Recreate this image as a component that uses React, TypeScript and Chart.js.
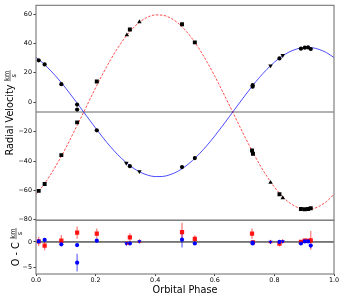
import React, { useEffect, useRef } from 'react';
import Chart from 'chart.js/auto';

// ---- model curves ----
const PHASE_GRID = [0, 0.025, 0.05, 0.075, 0.1, 0.125, 0.15, 0.175, 0.2, 0.225, 0.25, 0.275, 0.3, 0.325, 0.35, 0.375, 0.4, 0.425, 0.45, 0.475, 0.5, 0.525, 0.55, 0.575, 0.6, 0.625, 0.65, 0.675, 0.7, 0.725, 0.75, 0.775, 0.8, 0.825, 0.85, 0.875, 0.9, 0.925, 0.95, 0.975, 1.0];
const MODEL_PRIMARY = [30.4, 26.3, 21.3, 15.7, 9.5, 2.9, -3.9, -10.8, -17.6, -24.2, -30.3, -35.8, -40.6, -44.6, -47.6, -49.6, -50.6, -50.5, -49.3, -47.1, -43.8, -39.7, -34.7, -29.1, -22.9, -16.3, -9.5, -2.6, 4.2, 10.8, 16.9, 22.4, 27.2, 31.2, 34.2, 36.2, 37.2, 37.1, 35.9, 33.7, 30.4];
const MODEL_SECONDARY = [-62.6, -56.4, -48.9, -40.4, -31.1, -21.1, -10.9, -0.5, 9.8, 19.6, 28.8, 37.1, 44.3, 50.3, 54.9, 57.9, 59.4, 59.2, 57.4, 54.1, 49.2, 43.0, 35.5, 27.0, 17.7, 7.7, -2.5, -12.9, -23.2, -33.0, -42.2, -50.5, -57.7, -63.7, -68.3, -71.3, -72.8, -72.6, -70.8, -67.5, -62.6];
const GAMMA = -6.7;

// ---- primary star, instrument A (circles) ----
const P_A_PHASE = [0.009, 0.029, 0.085, 0.138, 0.138, 0.204, 0.315, 0.490, 0.533, 0.727, 0.727, 0.817, 0.889, 0.902, 0.913, 0.922];
const P_A_RV = [28.5, 25.7, 12.3, -1.6, -5.0, -19.1, -43.5, -44.1, -38.0, 10.6, 11.6, 29.8, 36.4, 37.1, 37.3, 36.2];
const P_A_OC = [0.1, 0.4, -0.45, -0.6, -4.0, 0.25, -0.3, 0.45, -0.3, -0.3, -0.1, 0.0, -0.3, 0.1, 0.1, -0.7];
const P_A_ERR = [0.3, 0.3, 0.3, 0.3, 1.7, 0.3, 0.3, 1.5, 0.3, 0.3, 0.3, 0.3, 0.3, 0.3, 0.3, 0.3];

// ---- secondary star, instrument A (squares) ----
const S_A_PHASE = [0.009, 0.029, 0.085, 0.138, 0.204, 0.315, 0.490, 0.533, 0.725, 0.728, 0.817, 0.889, 0.902, 0.913, 0.922];
const S_A_RV = [-60.3, -55.7, -36.0, -13.7, 14.1, 49.4, 53.0, 40.7, -32.8, -35.0, -62.6, -72.6, -72.8, -72.6, -72.1];
const S_A_OC = [0.1, -0.7, 0.25, 1.8, 1.6, 0.9, 1.9, 0.6, 1.6, -0.1, -0.3, 0.0, 0.25, 0.2, 0.3];
const S_A_ERR = [0.9, 0.9, 1.1, 1.2, 1.0, 0.8, 1.8, 0.7, 1.0, 0.5, 0.6, 0.4, 0.4, 0.4, 1.8];

// ---- instrument B (triangles) ----
const P_B_PHASE = [0.303, 0.347, 0.787, 0.828];
const P_B_RV = [-41.4, -47.1, 24.8, 31.9];
const P_B_OC = [-0.3, 0.1, 0.0, 0.1];
const S_B_PHASE = [0.305, 0.347, 0.787, 0.828];
const S_B_RV = [45.7, 54.6, -54.6, -65.1];
const S_B_OC = [-0.3, 0.1, 0.0, 0.1];

// ---- axes ----
const X_TICKS = [0, 0.2, 0.4, 0.6, 0.8, 1.0];
const RV_TICKS = [-80, -60, -40, -20, 0, 20, 40, 60];
const OC_TICKS = [-5, 0];
const RV_RANGE = [-80.3, 65.9];
const OC_RANGE = [-6.2, 4.2];

const FONT = '"DejaVu Sans", sans-serif';
const pts = (xs: number[], ys: number[]) => xs.map((x, i) => ({ x, y: ys[i] }));
const fmtMinus = (v: number, dec = 0) => v.toFixed(dec).replace('-', '\u2212');

function drawYTitle(ctx: CanvasRenderingContext2D, cx: number, cy: number, main: string) {
  ctx.save();
  ctx.translate(cx, cy);
  ctx.rotate(-Math.PI / 2);
  ctx.fillStyle = '#000';
  ctx.strokeStyle = '#000';
  ctx.font = `9.7px ${FONT}`;
  const w1 = ctx.measureText(main + ' ').width;
  ctx.font = `6.6px ${FONT}`;
  const wf = Math.max(ctx.measureText('km').width, ctx.measureText('s').width) + 1;
  const start = -(w1 + wf) / 2;
  ctx.font = `9.7px ${FONT}`;
  ctx.textBaseline = 'middle';
  ctx.textAlign = 'left';
  ctx.fillText(main, start, 0.5);
  const fc = start + w1 + wf / 2;
  ctx.font = `6.6px ${FONT}`;
  ctx.textAlign = 'center';
  ctx.textBaseline = 'alphabetic';
  ctx.fillText('km', fc, -1);
  ctx.textBaseline = 'top';
  ctx.fillText('s', fc, 0.8);
  ctx.lineWidth = 0.6;
  ctx.beginPath();
  ctx.moveTo(fc - wf / 2, 0);
  ctx.lineTo(fc + wf / 2, 0);
  ctx.stroke();
  ctx.restore();
}

const panelPlugin = {
  id: 'panels',
  beforeDatasetsDraw(chart: any) {
    const ctx = chart.ctx;
    const { left, right, top, bottom } = chart.chartArea;
    ctx.save();
    ctx.beginPath();
    ctx.rect(left, top, right - left, bottom - top);
    ctx.clip();
    chart.data.datasets.forEach((ds: any, i: number) => {
      if (!ds.errors) return;
      const meta = chart.getDatasetMeta(i);
      const ys = chart.scales[ds.yAxisID];
      ctx.strokeStyle = ds.errorColor;
      ctx.lineWidth = 1.3;
      meta.data.forEach((el: any, j: number) => {
        const d = ds.data[j];
        const y1 = ys.getPixelForValue(d.y - ds.errors[j]);
        const y2 = ys.getPixelForValue(d.y + ds.errors[j]);
        ctx.beginPath();
        ctx.moveTo(el.x, y1);
        ctx.lineTo(el.x, y2);
        ctx.stroke();
      });
    });
    ctx.restore();
  },
  afterDraw(chart: any) {
    const ctx = chart.ctx;
    const { left, right } = chart.chartArea;
    ctx.save();
    ctx.strokeStyle = '#808080';
    ctx.lineWidth = 1.2;
    ['rv', 'oc'].forEach((id) => {
      const s = chart.scales[id];
      ctx.strokeRect(left, s.top, right - left, s.bottom - s.top);
    });
    ctx.restore();
    const rv = chart.scales.rv;
    const oc = chart.scales.oc;
    drawYTitle(ctx, 10, (rv.top + rv.bottom) / 2, 'Radial Velocity');
    drawYTitle(ctx, 16, (oc.top + oc.bottom) / 2, 'O - C');
  },
};

export default function App() {
  const ref = useRef<HTMLCanvasElement>(null);
  useEffect(() => {
    if (!ref.current) return;
    const blue = 'rgba(0,0,255,0.7)';
    const red = 'rgba(255,0,0,0.7)';
    const yAxisCommon = (ticks: number[], range: number[], weight: number) => ({
      type: 'linear',
      position: 'left',
      stack: 'panels',
      stackWeight: weight,
      min: range[0],
      max: range[1],
      afterFit: (s: any) => { s.width = 36; },
      afterBuildTicks: (s: any) => { s.ticks = ticks.map((v) => ({ value: v })); },
      border: { display: false },
      grid: { display: true, drawOnChartArea: false, drawTicks: true, tickLength: 2.5, color: '#000', lineWidth: 0.8 },
      ticks: { font: { family: FONT, size: 6.4 }, color: '#000', padding: 1.5, callback: (v: any) => fmtMinus(Number(v)) },
    });
    const chart = new Chart(ref.current, {
      type: 'scatter',
      data: {
        datasets: [
          // RV panel points
          { data: pts(P_B_PHASE, P_B_RV), yAxisID: 'rv', pointStyle: 'triangle', rotation: 180, pointRadius: 2.6, backgroundColor: '#000', borderColor: '#000', borderWidth: 0 },
          { data: pts(S_B_PHASE, S_B_RV), yAxisID: 'rv', pointStyle: 'triangle', pointRadius: 2.6, backgroundColor: '#000', borderColor: '#000', borderWidth: 0 },
          { data: pts(P_A_PHASE, P_A_RV), yAxisID: 'rv', pointStyle: 'circle', pointRadius: 2.1, backgroundColor: '#000', borderColor: '#000', borderWidth: 0 },
          { data: pts(S_A_PHASE, S_A_RV), yAxisID: 'rv', pointStyle: 'rect', pointRadius: 2.8, backgroundColor: '#000', borderColor: '#000', borderWidth: 0 },
          // O-C points
          { data: pts(P_B_PHASE, P_B_OC), yAxisID: 'oc', pointStyle: 'triangle', rotation: 180, pointRadius: 2.4, backgroundColor: '#0000ff', borderWidth: 0 },
          { data: pts(S_B_PHASE, S_B_OC), yAxisID: 'oc', pointStyle: 'triangle', pointRadius: 2.4, backgroundColor: '#ff0000', borderWidth: 0 },
          { data: pts(P_A_PHASE, P_A_OC), yAxisID: 'oc', pointStyle: 'circle', pointRadius: 2.1, backgroundColor: '#0000ff', borderWidth: 0, errors: P_A_ERR, errorColor: 'rgba(0,0,255,0.55)' } as any,
          { data: pts(S_A_PHASE, S_A_OC), yAxisID: 'oc', pointStyle: 'rect', pointRadius: 3.0, backgroundColor: 'rgba(255,0,0,0.9)', borderWidth: 0, errors: S_A_ERR, errorColor: 'rgba(255,0,0,0.5)' } as any,
          // model curves
          { data: pts(PHASE_GRID, MODEL_PRIMARY), yAxisID: 'rv', showLine: true, pointRadius: 0, borderColor: blue, borderWidth: 1, cubicInterpolationMode: 'monotone' },
          { data: pts(PHASE_GRID, MODEL_SECONDARY), yAxisID: 'rv', showLine: true, pointRadius: 0, borderColor: red, borderWidth: 1, borderDash: [2.5, 1.5], cubicInterpolationMode: 'monotone' },
          // reference lines
          { data: pts([0, 1], [GAMMA, GAMMA]), yAxisID: 'rv', showLine: true, pointRadius: 0, borderColor: '#999999', borderWidth: 1.5 },
          { data: pts([0, 1], [0, 0]), yAxisID: 'oc', showLine: true, pointRadius: 0, borderColor: '#000', borderWidth: 1 },
        ] as any,
      },
      options: {
        animation: false,
        responsive: false,
        devicePixelRatio: 1,
        layout: { padding: { left: 0, right: 9, top: 5, bottom: 0 } },
        plugins: { legend: { display: false }, tooltip: { enabled: false } },
        scales: {
          x: {
            type: 'linear',
            min: 0,
            max: 1,
            afterFit: (s: any) => { s.height = 24; },
            afterBuildTicks: (s: any) => { s.ticks = X_TICKS.map((v) => ({ value: v })); },
            border: { display: false },
            grid: { display: true, drawOnChartArea: false, drawTicks: true, tickLength: 2, color: '#000', lineWidth: 0.8 },
            ticks: { font: { family: FONT, size: 6.4 }, color: '#000', padding: 0.5, maxRotation: 0, callback: (v: any) => Number(v).toFixed(1) },
            title: { display: true, text: 'Orbital Phase', font: { family: FONT, size: 9.7 }, color: '#000', padding: { top: 0, bottom: 2 } },
          },
          oc: yAxisCommon(OC_TICKS, OC_RANGE, 1),
          rv: yAxisCommon(RV_TICKS, RV_RANGE, 4),
        } as any,
      },
      plugins: [panelPlugin],
    });
    return () => chart.destroy();
  }, []);
  return (
    <div style={{ position: 'fixed', left: 0, top: 0, width: 343, height: 298, background: '#fff' }}>
      <canvas ref={ref} width={343} height={298} style={{ width: 343, height: 298, display: 'block' }} />
    </div>
  );
}
